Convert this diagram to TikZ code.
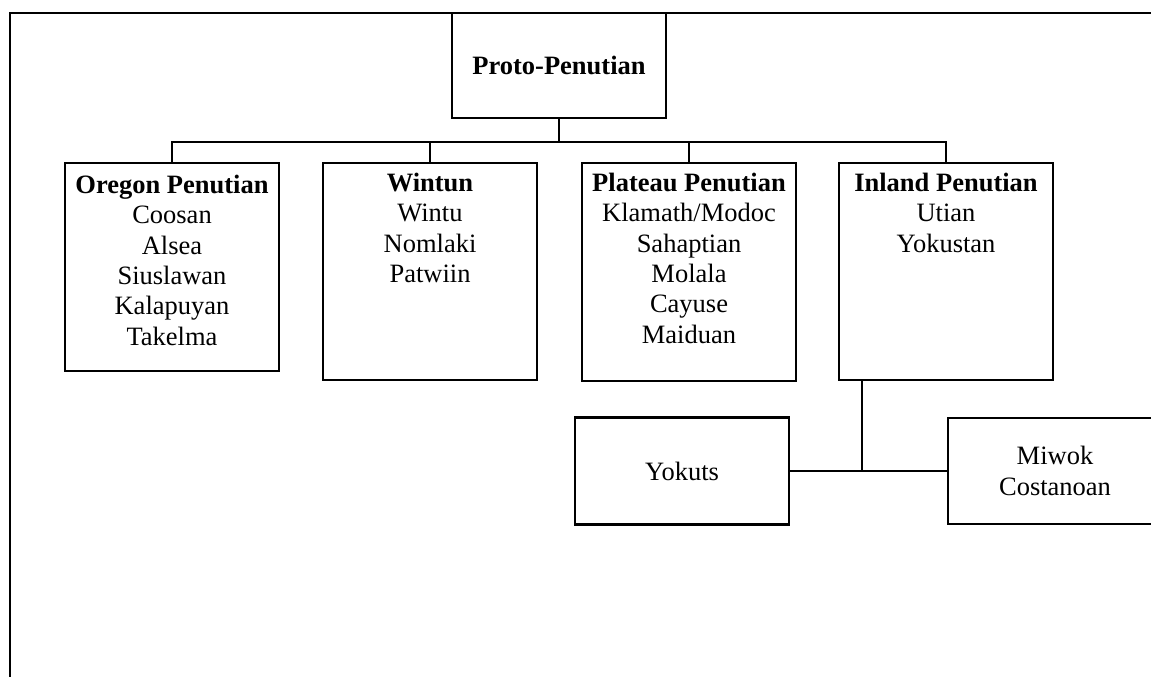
\documentclass[tikz,border=0pt]{standalone}
\usepackage{fontspec}
\setmainfont{Liberation Serif}
\begin{document}
\begin{tikzpicture}[x=1pt,y=-1pt,
  every node/.style={inner sep=0pt,outer sep=0pt},
  boxnode/.style={draw,line width=2.7pt,rectangle,minimum width=214pt},
  txt/.style={align=center,anchor=north,font=\fontsize{26.5}{30.4}\selectfont},
  link/.style={line width=2.5pt},
  frame/.style={line width=2.5pt}]
\useasboundingbox (0,0) rectangle (1151,677);
% frame
\coordinate (fbl) at (9.8,677);
\coordinate (ftl) at (9.8,12.8);
\coordinate (ftr) at (1151,12.8);
\draw[frame] (fbl) -- (ftl) -- (ftr);
% boxes
\node[boxnode,minimum height=105pt] (proto) at (559,65.5)
  {\fontsize{26.5}{30.4}\selectfont\bfseries Proto-Penutian};
\node[boxnode,minimum height=208pt] (oregon) at (172,267) {};
\node[boxnode,minimum height=217pt] (wintun) at (430,271.5) {};
\node[boxnode,minimum height=218pt] (plateau) at (689,272) {};
\node[boxnode,minimum height=217pt] (inland) at (946,271.5) {};
\node[txt] (oregontxt) at ([yshift=-12pt]oregon.north)
  {\bfseries Oregon Penutian\\Coosan\\Alsea\\Siuslawan\\Kalapuyan\\Takelma};
\node[txt] (wintuntxt) at ([yshift=-10pt]wintun.north)
  {\bfseries Wintun\\Wintu\\Nomlaki\\Patwiin};
\node[txt] (plateautxt) at ([yshift=-10pt]plateau.north)
  {\bfseries Plateau Penutian\\Klamath/Modoc\\Sahaptian\\Molala\\Cayuse\\Maiduan};
\node[txt] (inlandtxt) at ([yshift=-10pt]inland.north)
  {\bfseries Inland Penutian\\Utian\\Yokustan};
\node[boxnode,minimum height=107pt,align=center,font=\fontsize{26.5}{30.4}\selectfont] (yokuts) at (682,471) {Yokuts};
\node[boxnode,minimum height=106pt,align=center,font=\fontsize{26.5}{30.4}\selectfont] (miwok) at (1055,471) {Miwok\\Costanoan};
% connectors
\coordinate (bus) at (559,142);
\draw[link] (proto.south) -- (bus);
\draw[link] (oregon.north) |- (bus) -| (inland.north);
\draw[link] (wintun.north) -- (wintun.north |- bus);
\draw[link] (plateau.north) -- (plateau.north |- bus);
\coordinate (junction) at (862,471);
\draw[link] (inland.south -| junction) -- (junction);
\draw[link] (yokuts.east) -- (junction) -- (miwok.west);
\end{tikzpicture}
\end{document}
